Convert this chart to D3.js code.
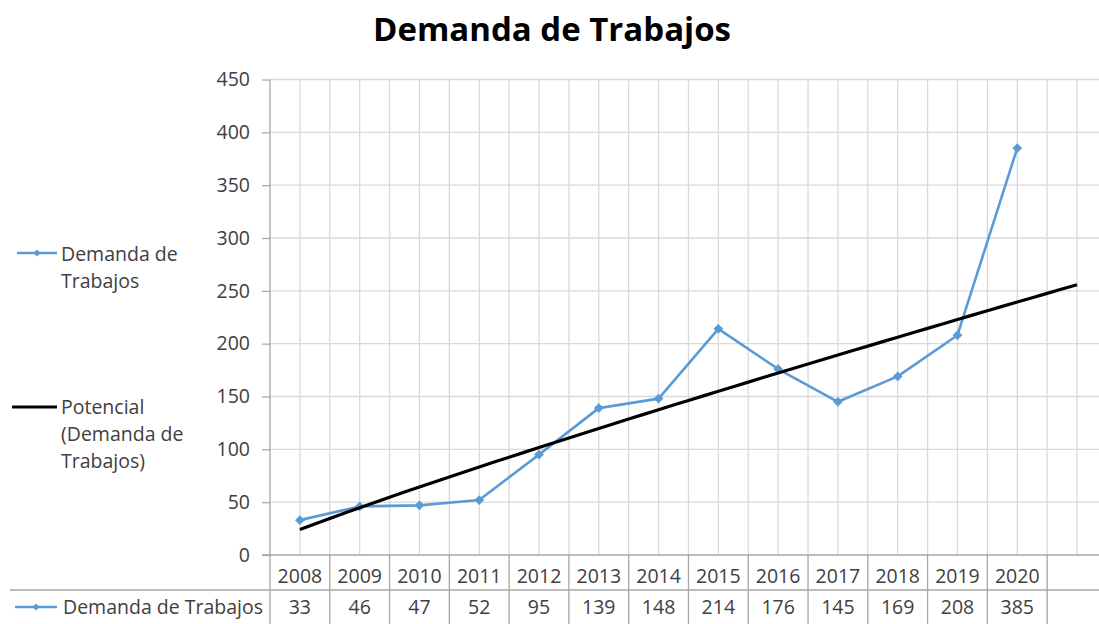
<!DOCTYPE html>
<html><head><meta charset="utf-8">
<script src="https://cdn.jsdelivr.net/npm/d3@7"></script>
<style>body{margin:0;background:#fff;} svg{display:block;}</style>
</head><body><svg id="c" width="1099" height="624"></svg>
<script>
const title = "Demanda de Trabajos";
const years = ["2008","2009","2010","2011","2012","2013","2014","2015","2016","2017","2018","2019","2020"];
const axisCategories = years.concat(["2021"]);
const values = [33,46,47,52,95,139,148,214,176,145,169,208,385];
const yTicks = [0,50,100,150,200,250,300,350,400,450];
const seriesName = "Demanda de Trabajos";
const trendLabel = ["Potencial","(Demanda de","Trabajos)"];
const seriesLegend = ["Demanda de","Trabajos"];

const font = "'Open Sans', Lato, sans-serif";
const fs = 19.5;
const blue = "#5b9bd5";
const grid = "#d9d9d9";
const txt = "#404040";
const svg = d3.select("#c");

const x = d3.scaleBand().domain(axisCategories).range([270, 270 + 14 * 59.78]).padding(0);
const cx = d => x(d) + x.bandwidth() / 2;
const y = d3.scaleLinear().domain([0, 450]).range([555, 79.5]);

// Power trendline (least squares on ln-ln), forecast one period forward
const lx = values.map((v, i) => Math.log(i + 1)), ly = values.map(v => Math.log(v));
const mx = d3.mean(lx), my = d3.mean(ly);
const b = d3.sum(lx.map((v, i) => (v - mx) * (ly[i] - my))) / d3.sum(lx.map(v => (v - mx) ** 2));
const a = Math.exp(my - b * mx);
const trendPts = d3.range(1, 14.001, 0.25).map(t => ({t, v: a * Math.pow(t, b)}));
const tx = d3.scaleLinear().domain([1, 14]).range([cx("2008"), cx("2021")]);

// gridlines
const g = svg.append("g");
g.selectAll(".hg").data(yTicks.slice(1)).join("line")
  .attr("x1", 270).attr("x2", 1099).attr("y1", d => y(d)).attr("y2", d => y(d))
  .attr("stroke", grid).attr("stroke-width", 1.3);
const vpos = [];
axisCategories.forEach((c, i) => { if (i > 0) vpos.push(x(c)); vpos.push(cx(c)); });
vpos.push(x("2021") + x.bandwidth());
g.selectAll(".vg").data(vpos).join("line")
  .attr("x1", d => d).attr("x2", d => d).attr("y1", y(450)).attr("y2", 555)
  .attr("stroke", grid).attr("stroke-width", 1.3);

// y axis
const yAxis = d3.axisLeft(y).tickValues(yTicks).tickSize(8).tickPadding(12);
const ya = svg.append("g").attr("transform", "translate(270,0)").call(yAxis);
ya.select(".domain").remove();
ya.selectAll(".tick line").attr("stroke", "#a6a6a6").attr("stroke-width", 1.2);
ya.selectAll(".tick text").attr("font-family", font).attr("font-size", fs).attr("fill", txt);
svg.append("line").attr("x1", 270).attr("x2", 270).attr("y1", y(450)).attr("y2", 624)
  .attr("stroke", "#a6a6a6").attr("stroke-width", 1.3);

// table
const tb = svg.append("g");
tb.append("line").attr("x1", 262).attr("x2", 1099).attr("y1", 555).attr("y2", 555).attr("stroke", "#a6a6a6").attr("stroke-width", 1.3);
tb.append("line").attr("x1", 10).attr("x2", 1099).attr("y1", 590).attr("y2", 590).attr("stroke", "#a6a6a6").attr("stroke-width", 1.3);
tb.selectAll(".cb").data(years).join("line")
  .attr("x1", d => x(d) + x.bandwidth()).attr("x2", d => x(d) + x.bandwidth())
  .attr("y1", 555).attr("y2", 624).attr("stroke", "#a6a6a6").attr("stroke-width", 1.3);
tb.selectAll(".yr").data(years).join("text")
  .attr("x", d => cx(d)).attr("y", 583).attr("text-anchor", "middle")
  .attr("font-family", font).attr("font-size", fs).attr("fill", txt).text(d => d);
tb.selectAll(".vl").data(values).join("text")
  .attr("x", (d, i) => cx(years[i])).attr("y", 614).attr("text-anchor", "middle")
  .attr("font-family", font).attr("font-size", fs).attr("fill", txt).text(d => d);

const diamond = (s) => d3.symbol(d3.symbolSquare, s)();
tb.append("line").attr("x1", 15).attr("x2", 57).attr("y1", 607).attr("y2", 607).attr("stroke", blue).attr("stroke-width", 2.5);
tb.append("path").attr("d", diamond(26)).attr("transform", "translate(36,607) rotate(45)").attr("fill", blue);
tb.append("text").attr("x", 63).attr("y", 614).attr("font-family", font).attr("font-size", fs).attr("fill", txt).text(seriesName);

// series line
svg.append("path").datum(values)
  .attr("d", d3.line().x((d, i) => cx(years[i])).y(d => y(d)))
  .attr("fill", "none").attr("stroke", blue).attr("stroke-width", 2.6).attr("stroke-linejoin", "round");
svg.selectAll(".mk").data(values).join("path")
  .attr("d", diamond(48))
  .attr("transform", (d, i) => `translate(${cx(years[i])},${y(d)}) rotate(45)`).attr("fill", blue);

// trendline
svg.append("path").datum(trendPts)
  .attr("d", d3.line().x(d => tx(d.t)).y(d => y(d.v)))
  .attr("fill", "none").attr("stroke", "#000").attr("stroke-width", 3.2);

// legend
const lg = svg.append("g");
lg.append("line").attr("x1", 17).attr("x2", 57).attr("y1", 253).attr("y2", 253).attr("stroke", blue).attr("stroke-width", 2.5);
lg.append("path").attr("d", diamond(26)).attr("transform", "translate(37,253) rotate(45)").attr("fill", blue);
lg.selectAll(".l1").data(seriesLegend).join("text")
  .attr("x", 61).attr("y", (d, i) => 261 + i * 27).attr("font-family", font).attr("font-size", fs).attr("fill", txt).text(d => d);
lg.append("line").attr("x1", 12).attr("x2", 57).attr("y1", 407).attr("y2", 407).attr("stroke", "#000").attr("stroke-width", 3.2);
lg.selectAll(".l2").data(trendLabel).join("text")
  .attr("x", 61).attr("y", (d, i) => 414 + i * 27).attr("font-family", font).attr("font-size", fs).attr("fill", txt).text(d => d);

// title
svg.append("text").attr("x", 552).attr("y", 41).attr("text-anchor", "middle")
  .attr("font-family", font).attr("font-size", 33).attr("font-weight", "bold").attr("fill", "#000").text(title);
</script></body></html>
